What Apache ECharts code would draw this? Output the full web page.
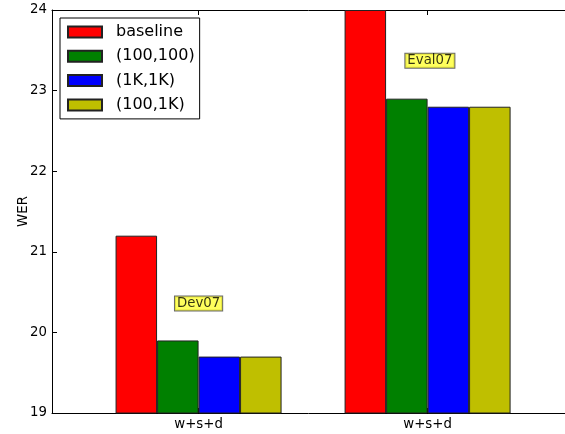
<!DOCTYPE html>
<html>
<head>
<meta charset="utf-8">
<script src="https://cdn.jsdelivr.net/npm/echarts@6/dist/echarts.min.js"></script>
<style>html,body{margin:0;padding:0;background:#fff}#c{width:565px;height:434px}</style>
</head>
<body>
<div id="c"></div>
<script>
// ---- data ----
var categories = ['w+s+d', 'w+s+d'];
var groupPositions = [0, 1];
var seriesNames = ['baseline', '(100,100)', '(1K,1K)', '(100,1K)'];
var baseline = [21.2, 24.0];
var s100_100 = [19.9, 22.9];
var s1K_1K = [19.7, 22.8];
var s100_1K = [19.7, 22.8];
var annotationTexts = ['Dev07', 'Eval07'];
var annotationX = [0.0, 1.01];
var annotationY = [20.36, 23.37];
var yTicks = [19, 20, 21, 22, 23, 24];

var seriesValues = [baseline, s100_100, s1K_1K, s100_1K];
var colors = ['#ff0000', '#008000', '#0000ff', '#bfbf00'];
var FONT = 'DejaVu Sans';

var chart = echarts.init(document.getElementById('c'), null, {renderer: 'canvas'});

var series = seriesNames.map(function (name, i) {
  return {
    name: name,
    type: 'bar',
    xAxisIndex: 0,
    barWidth: 41.5,
    barGap: '0%',
    clip: true,
    itemStyle: {color: colors[i], borderColor: '#222', borderWidth: 1},
    emphasis: {disabled: true},
    data: groupPositions.map(function (x, j) { return [x, seriesValues[i][j]]; })
  };
});

series.push({
  type: 'scatter',
  xAxisIndex: 0,
  symbolSize: 0,
  silent: true,
  z: 10,
  label: {
    show: true,
    position: 'inside',
    formatter: function (p) { return p.value[2]; },
    color: '#000',
    fontFamily: FONT,
    fontSize: 13.3,
    backgroundColor: '#ffff33',
    borderColor: '#444',
    borderWidth: 1,
    padding: [1, 2, 0, 2]
  },
  data: annotationTexts.map(function (t, i) { return [annotationX[i], annotationY[i], t]; })
});

var xMin = -0.64, xMax = 1.6;

chart.setOption({
  animation: false,
  textStyle: {fontFamily: FONT},
  grid: {left: 52, top: 10, right: 0, bottom: 21, containLabel: false},
  legend: {
    orient: 'vertical',
    left: 60,
    top: 18,
    padding: [5, 5, 5, 7],
    itemWidth: 34,
    itemHeight: 11,
    itemGap: 6.3,
    borderColor: '#000',
    borderWidth: 1,
    backgroundColor: '#fff',
    icon: 'rect',
    selectedMode: false,
    textStyle: {fontFamily: FONT, fontSize: 16, lineHeight: 18, color: '#000', padding: [0, 0, 0, 9]},
    data: seriesNames
  },
  xAxis: [{
    type: 'value',
    position: 'bottom',
    min: xMin,
    max: xMax,
    splitLine: {show: false},
    axisLine: {show: true, onZero: false, lineStyle: {color: '#000', width: 1}},
    axisTick: {show: true, inside: true, length: 5, customValues: groupPositions, lineStyle: {color: '#000'}},
    axisLabel: {
      show: true,
      customValues: groupPositions,
      margin: 5,
      fontFamily: FONT,
      fontSize: 13.3,
      color: '#000',
      formatter: function (v) {
        var idx = groupPositions.indexOf(Math.round(v));
        return idx >= 0 ? categories[idx] : '';
      }
    }
  }, {
    type: 'value',
    position: 'top',
    min: xMin,
    max: xMax,
    splitLine: {show: false},
    axisLine: {show: true, onZero: false, lineStyle: {color: '#000', width: 1}},
    axisTick: {show: true, inside: true, length: 5, customValues: groupPositions, lineStyle: {color: '#000'}},
    axisLabel: {show: false}
  }],
  yAxis: {
    type: 'value',
    min: yTicks[0],
    max: yTicks[yTicks.length - 1],
    interval: 1,
    name: 'WER',
    nameLocation: 'middle',
    nameGap: 22,
    nameMoveOverlap: false,
    nameTextStyle: {fontFamily: FONT, fontSize: 13.3, color: '#000'},
    splitLine: {show: false},
    axisLine: {show: true, onZero: false, lineStyle: {color: '#000', width: 1}},
    axisTick: {show: true, inside: true, length: 5, lineStyle: {color: '#000'}},
    axisLabel: {margin: 5, fontFamily: FONT, fontSize: 13.3, color: '#000'}
  },
  series: series
});
</script>
</body>
</html>
